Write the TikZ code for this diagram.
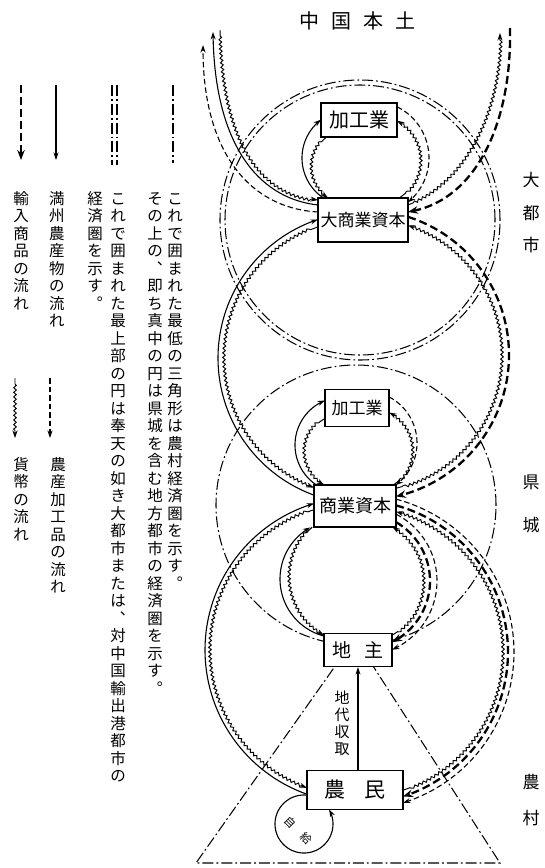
\documentclass[tikz,border=0pt]{standalone}
\usepackage{fontspec}
\setmainfont{Noto Sans CJK JP}
\usetikzlibrary{arrows.meta,decorations.pathmorphing}
\makeatletter
\newcommand\vtxt[2][17.5pt]{\vbox{\baselineskip=#1\lineskiplimit=-100pt\lineskip=0pt
  \@tfor\vch:=#2\do{\hbox to 1.1em{\hss\vrule height .85em depth .25em width 0pt\vch\hss}}}}
\makeatother
\begin{document}
\begin{tikzpicture}[x=1pt,y=-1pt,
  box/.style={draw,line width=1.2pt,fill=white,inner sep=0pt},
  dd/.style={line width=1.05pt,dash pattern=on 11pt off 3pt on 1.8pt off 3pt},
  prod/.style={line width=1.1pt},
  money/.style={line width=0.95pt,decorate,decoration={snake,amplitude=1.3pt,segment length=4.6pt,pre length=6pt,post length=6pt}},
  proc/.style={line width=1.1pt,dash pattern=on 5.5pt off 3pt},
  imp/.style={line width=2.3pt,dash pattern=on 8pt off 4pt},
  arr/.style={-{Stealth[length=7.5pt,width=5pt]}},
  rarr/.style={{Stealth[length=7.5pt,width=5pt]}-},
  iarr/.style={-{Stealth[length=10pt,width=7.5pt]}},
  lbl/.style={inner sep=0pt,font=\fontsize{17}{17}\selectfont},
  vcol/.style={anchor=north,inner sep=0pt,font=\fontsize{15.5}{17.5}\selectfont},
]
\useasboundingbox (0,0) rectangle (544,868);
\fill[white] (0,0) rectangle (544,868);

% ---------- economic spheres ----------
\draw[dd] (360,220) circle[radius=140pt];
\draw[dd] (360,220) circle[radius=135pt];
\draw[dd] (356,505) circle[radius=140pt];
\coordinate (apex) at (355,638);
\coordinate (bl) at (196,863);
\coordinate (br) at (500,863);
\draw[dd] (apex) -- (bl) -- (br) -- cycle;

% ---------- flows: big city <-> China ----------
\draw[prod,arr] (318,205) .. controls (255,198) and (215,140) .. (213,32);
\draw[money,arr] (220,30) .. controls (222,135) and (256,194) .. (318,200);
\draw[proc,arr] (318,212) .. controls (248,208) and (203,150) .. (203,45);
\draw[money,arr] (408,205) .. controls (460,185) and (500,120) .. (500,33);
\draw[imp,iarr] (510,28) .. controls (512,125) and (475,198) .. (408,212);

% ---------- top processing loop ----------
\draw[prod,arr] plot[domain=123.6:232.8,samples=60,variable=\t] ({350+48*cos(\t)},{158+48*sin(\t)});
\draw[money,rarr] plot[domain=125.3:232.1,samples=60,variable=\t] ({350+38*cos(\t)},{167+38*sin(\t)});
\draw[proc,arr] plot[domain=-64:50.8,samples=60,variable=\t] ({372+57*cos(\t)},{158+57*sin(\t)});
\draw[money,rarr] plot[domain=-60.7:57.6,samples=60,variable=\t] ({375+45*cos(\t)},{160+45*sin(\t)});

% ---------- big city <-> county town ----------
\draw[prod,arr] plot[domain=110.0:251.6,samples=90,variable=\t] ({364+146*cos(\t)},{358+146*sin(\t)});
\draw[money,rarr] plot[domain=111.1:250.7,samples=90,variable=\t] ({364+139*cos(\t)},{358+139*sin(\t)});
\draw[imp,iarr] plot[domain=-72.3:77.3,samples=90,variable=\t] ({364+145*cos(\t)},{355+145*sin(\t)});
\draw[money,rarr] plot[domain=-71.3:76.5,samples=90,variable=\t] ({364+137*cos(\t)},{355+137*sin(\t)});

% ---------- middle processing loop ----------
\draw[prod,arr] plot[domain=123.6:248.0,samples=60,variable=\t] ({343+48*cos(\t)},{445+48*sin(\t)});
\draw[money,rarr] plot[domain=119.7:241.7,samples=60,variable=\t] ({343+38*cos(\t)},{452+38*sin(\t)});
\draw[proc,arr] plot[domain=-62.5:53.9,samples=60,variable=\t] ({365+52*cos(\t)},{443+52*sin(\t)});
\draw[money,rarr] plot[domain=-63.1:56.4,samples=60,variable=\t] ({370+42*cos(\t)},{450+42*sin(\t)});

% ---------- county town <-> peasants ----------
\draw[prod,arr] plot[domain=109.5:253.3,samples=90,variable=\t] ({358+153*cos(\t)},{650+153*sin(\t)});
\draw[money,rarr] plot[domain=110.3:252.6,samples=90,variable=\t] ({358+147*cos(\t)},{650+147*sin(\t)});
\draw[proc,arr] plot[domain=-75.3:72.7,samples=90,variable=\t] ({356+158*cos(\t)},{652+158*sin(\t)});
\draw[imp,iarr] plot[domain=-74.7:72.0,samples=90,variable=\t] ({356+152*cos(\t)},{652+152*sin(\t)});
\draw[money,rarr] plot[domain=-74.1:71.2,samples=90,variable=\t] ({356+146*cos(\t)},{652+146*sin(\t)});

% ---------- county town <-> landlord ----------
\draw[prod,arr] plot[domain=104.7:240.9,samples=60,variable=\t] ({339+59*cos(\t)},{579+59*sin(\t)});
\draw[money,rarr] plot[domain=119.5:228,samples=60,variable=\t] ({357+67*cos(\t)},{577+67*sin(\t)});
\draw[money,rarr] plot[domain=-59:59.5,samples=60,variable=\t] ({360+63*cos(\t)},{581+63*sin(\t)});
\draw[imp,iarr] plot[domain=-60:63.8,samples=60,variable=\t] ({362+68*cos(\t)},{581+68*sin(\t)});
\draw[proc,arr] plot[domain=-63:66.4,samples=60,variable=\t] ({362+75*cos(\t)},{581+75*sin(\t)});

% ---------- self-supply loop ----------
\draw[prod,rarr] plot[domain=-390:-84,samples=80,variable=\t] ({304+29*cos(\t)},{824+29*sin(\t)});
\node[inner sep=0pt,rotate=-45,font=\fontsize{11}{11}\selectfont] (jiA) at (290,822) {自};
\node[inner sep=0pt,rotate=-45,font=\fontsize{11}{11}\selectfont] (jiB) at (306,838) {給};

% ---------- boxes ----------
\node[box,minimum width=76pt,minimum height=34pt,font=\fontsize{20}{20}\selectfont] (K1) at (359,120) {加工業};
\node[box,minimum width=90pt,minimum height=44pt,font=\fontsize{17}{17}\selectfont] (D) at (363,220) {大商業資本};
\node[box,minimum width=64pt,minimum height=37pt,font=\fontsize{17}{17}\selectfont] (K2) at (357,408) {加工業};
\node[box,minimum width=82pt,minimum height=42pt,font=\fontsize{18}{18}\selectfont] (S) at (355,506) {商業資本};
\node[box,minimum width=68pt,minimum height=33pt,font=\fontsize{19}{19}\selectfont] (J) at (358,650) {地\hspace{13pt}主};
\node[box,minimum width=96pt,minimum height=39pt,font=\fontsize{21}{21}\selectfont] (N) at (355,790) {農\hspace{20pt}民};

% rent
\draw[prod,arr] (N.north -| J.south) -- (J.south);
\node[anchor=north,inner sep=0pt,font=\fontsize{15}{17}\selectfont] (rent) at (342,691) {\vtxt[17pt]{地代収取}};

% ---------- titles / side labels ----------
\node[inner sep=0pt,font=\fontsize{20}{20}\selectfont] (title) at (357,21) {中\hspace{12pt}国\hspace{12pt}本\hspace{12pt}土};
\node[lbl] (r1) at (531,180) {大};
\node[lbl] (r2) at (531,213) {都};
\node[lbl] (r3) at (531,245) {市};
\node[lbl] (r4) at (531,482) {県};
\node[lbl] (r5) at (531,525) {城};
\node[lbl] (r6) at (531,782) {農};
\node[lbl] (r7) at (531,818) {村};

% ---------- legend ----------
\coordinate (g1a) at (21,85);  \coordinate (g1b) at (21,160);
\coordinate (g2a) at (56,85);  \coordinate (g2b) at (56,160);
\coordinate (g3a) at (112,85); \coordinate (g3b) at (112,165);
\coordinate (g4a) at (117,85); \coordinate (g4b) at (117,165);
\coordinate (g5a) at (173,85); \coordinate (g5b) at (173,163);
\coordinate (g6a) at (15,378); \coordinate (g6b) at (15,438);
\coordinate (g7a) at (50,378); \coordinate (g7b) at (50,438);
\draw[imp,iarr,line width=2.8pt] (g1a) -- (g1b);
\draw[prod,arr] (g2a) -- (g2b);
\draw[dd] (g3a) -- (g3b);
\draw[dd] (g4a) -- (g4b);
\draw[dd] (g5a) -- (g5b);
\draw[money,arr] (g6a) -- (g6b);
\draw[proc,arr] (g7a) -- (g7b);

\node[vcol] (legA) at (175,191) {\vtxt{これで囲まれた最低の三角形は農村経済圏を示す︒}};
\node[vcol] (legB) at (155,191) {\vtxt{その上の︑即ち真中の円は県城を含む地方都市の経済圏を示す︒}};
\node[vcol] (legC) at (118,191) {\vtxt{これで囲まれた最上部の円は奉天の如き大都市または︑対中国輸出港都市の}};
\node[vcol] (legD) at (95,191) {\vtxt{経済圏を示す︒}};
\node[vcol] (leg1) at (21,191) {\vtxt{輸入商品の流れ}};
\node[vcol] (leg2) at (57,191) {\vtxt{満州農産物の流れ}};
\node[vcol] (leg3) at (21,457) {\vtxt{貨幣の流れ}};
\node[vcol] (leg4) at (58,457) {\vtxt{農産加工品の流れ}};
\end{tikzpicture}
\end{document}
